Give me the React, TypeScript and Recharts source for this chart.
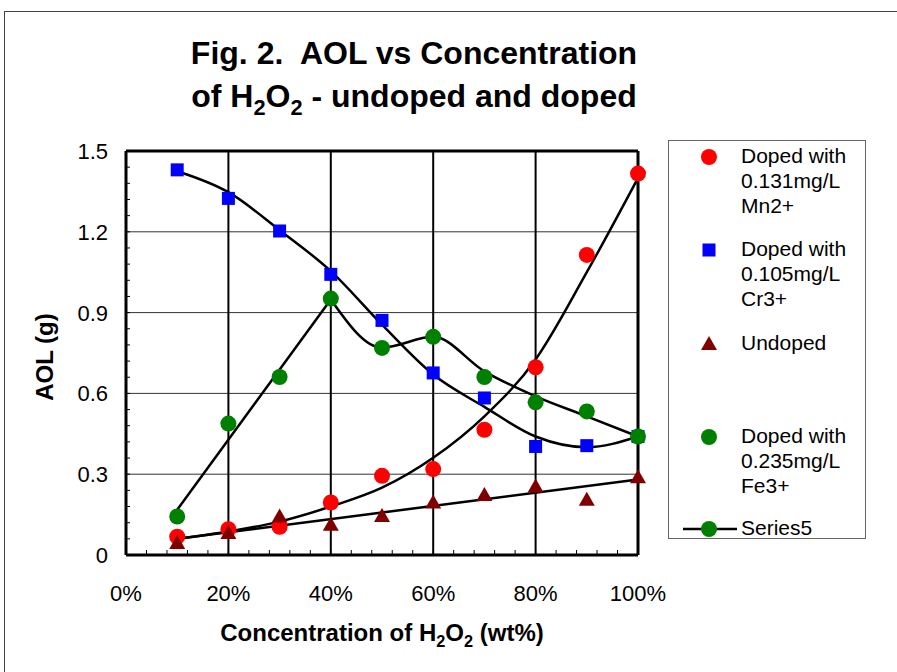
import {
  ComposedChart,
  Line,
  ReferenceLine,
  Scatter,
  XAxis,
  YAxis,
} from "recharts";

// concentration of H2O2 (wt%) at each sample
const concentrations = [10, 20, 30, 40, 50, 60, 70, 80, 90, 100];

// measured AOL (g)
const mnValues = [0.068, 0.096, 0.105, 0.195, 0.294, 0.319, 0.465, 0.697, 1.114, 1.416];
const crValues = [1.43, 1.324, 1.203, 1.042, 0.871, 0.676, 0.583, 0.403, 0.406, 0.44];
const undopedValues = [0.045, 0.082, 0.143, 0.112, 0.145, 0.195, 0.223, 0.254, 0.205, 0.289];
const feValues = [0.143, 0.488, 0.661, 0.952, 0.769, 0.81, 0.661, 0.567, 0.533, 0.44];

// trend lines
const mnTrend = [0.06, 0.087, 0.124, 0.18, 0.25, 0.361, 0.515, 0.726, 1.05, 1.4];
const crTrend = [1.425, 1.347, 1.206, 1.054, 0.855, 0.67, 0.55, 0.44, 0.4, 0.44];
const undopedTrendX = [10, 100];
const undopedTrend = [0.06, 0.28];
const feRiseX = [10, 40];
const feRise = [0.168, 0.949];
const feFallX = [40, 50, 60, 70, 80, 90, 100];
const feFall = [0.949, 0.77, 0.81, 0.682, 0.589, 0.515, 0.44];

const xTicks = [0, 4, 8, 12, 16, 20, 24, 28, 32, 36, 40, 44, 48, 52, 56, 60, 64, 68, 72, 76, 80, 84, 88, 92, 96, 100];
const yTicks = [0, 0.06, 0.12, 0.18, 0.24, 0.3, 0.36, 0.42, 0.48, 0.54, 0.6, 0.66, 0.72, 0.78, 0.84, 0.9, 0.96, 1.02, 1.08, 1.14, 1.2, 1.26, 1.32, 1.38, 1.44, 1.5];
const xGrid = [20, 40, 60, 80];
const yGrid = [0.3, 0.6, 0.9, 1.2];

const legendItems = [
  { lines: ["Doped with", "0.131mg/L", "Mn2+"], shape: "circle", color: "#ff0000", center: 156 },
  { lines: ["Doped with", "0.105mg/L", "Cr3+"], shape: "square", color: "#0000ff", center: 249 },
  { lines: ["Undoped"], shape: "triangle", color: "#800000", center: 343 },
  { lines: ["Doped with", "0.235mg/L", "Fe3+"], shape: "circle", color: "#008000", center: 436 },
  { lines: ["Series5"], shape: "line", color: "#008000", center: 528 },
];

const toPoints = (xs: number[], ys: number[]) => xs.map((x, i) => ({ x, y: ys[i] }));

const FONT = "'Liberation Sans', Arial, sans-serif";
const X_MARGIN = 30;
const Y_MARGIN = 18;

function XTick(props: any) {
  const { x, y, payload } = props;
  const axisY = y - X_MARGIN;
  const v = payload.value;
  return (
    <g>
      <line x1={x} x2={x} y1={axisY} y2={axisY - 5} stroke="#000" strokeWidth={1} />
      {v % 20 === 0 && (
        <text x={x} y={y + 16} textAnchor="middle" fontSize={22} fontFamily={FONT} fill="#000">
          {`${v}%`}
        </text>
      )}
    </g>
  );
}

function YTick(props: any) {
  const { x, y, payload } = props;
  const axisX = x + Y_MARGIN;
  const v = payload.value;
  return (
    <g>
      <line x1={axisX} x2={axisX + 4} y1={y} y2={y} stroke="#000" strokeWidth={1} />
      {Math.round(v * 100) % 30 === 0 && (
        <text x={x} y={y + 8} textAnchor="end" fontSize={22} fontFamily={FONT} fill="#000">
          {String(v)}
        </text>
      )}
    </g>
  );
}

const circleShape = (color: string) => (p: any) => <circle cx={p.cx} cy={p.cy} r={8} fill={color} />;
const squareShape = (color: string) => (p: any) => (
  <rect x={p.cx - 6.5} y={p.cy - 6.5} width={13} height={13} fill={color} />
);
const triangleShape = (color: string) => (p: any) => (
  <polygon points={`${p.cx},${p.cy - 8} ${p.cx + 8},${p.cy + 6} ${p.cx - 8},${p.cy + 6}`} fill={color} />
);

function LegendMarker({ shape, color }: { shape: string; color: string }) {
  return (
    <svg width={60} height={20} style={{ position: "absolute", left: 10, top: -10 }}>
      {shape === "line" && <line x1={4} x2={58} y1={10} y2={10} stroke="#000" strokeWidth={2.5} />}
      {(shape === "circle" || shape === "line") && <circle cx={30} cy={10} r={8} fill={color} />}
      {shape === "square" && <rect x={23.5} y={3.5} width={13} height={13} fill={color} />}
      {shape === "triangle" && <polygon points="30,2 38,16 22,16" fill={color} />}
    </svg>
  );
}

const Sub = ({ children }: { children: string }) => (
  <span style={{ fontSize: "0.68em", position: "relative", top: "0.35em" }}>{children}</span>
);

export default function App() {
  return (
    <div
      style={{
        position: "fixed",
        left: 0,
        top: 0,
        width: 897,
        height: 672,
        overflow: "hidden",
        background: "#fff",
        fontFamily: FONT,
        color: "#000",
      }}
    >
      <div
        style={{
          position: "absolute",
          left: 4,
          top: 11,
          width: 1000,
          height: 1000,
          border: "1px solid #444",
        }}
      />

      <div
        style={{
          position: "absolute",
          left: 0,
          top: 32,
          width: 828,
          textAlign: "center",
          fontWeight: 700,
          fontSize: 32,
          lineHeight: "43px",
        }}
      >
        <div style={{ whiteSpace: "pre" }}>Fig. 2.  AOL vs Concentration</div>
        <div>
          of H<Sub>2</Sub>O<Sub>2</Sub> - undoped and doped
        </div>
      </div>

      <ComposedChart
        width={897}
        height={672}
        margin={{ top: 151, right: 259, bottom: 67, left: 0 }}
        style={{ position: "absolute", left: 0, top: 0 }}
      >
        <XAxis
          type="number"
          dataKey="x"
          domain={[0, 100]}
          ticks={xTicks}
          interval={0}
          height={50}
          tickSize={0}
          tickMargin={X_MARGIN}
          tick={<XTick />}
          axisLine={{ stroke: "#000", strokeWidth: 3 }}
          tickLine={false}
        />
        <YAxis
          type="number"
          dataKey="y"
          domain={[0, 1.5]}
          ticks={yTicks}
          interval={0}
          width={126}
          tickSize={0}
          tickMargin={Y_MARGIN}
          tick={<YTick />}
          axisLine={{ stroke: "#000", strokeWidth: 3 }}
          tickLine={false}
        />

        {yGrid.map((v) => (
          <ReferenceLine key={`h${v}`} y={v} stroke="#333" strokeWidth={1} />
        ))}
        {xGrid.map((v) => (
          <ReferenceLine key={`v${v}`} x={v} stroke="#000" strokeWidth={2} />
        ))}
        <ReferenceLine y={1.5} stroke="#000" strokeWidth={3} />
        <ReferenceLine x={100} stroke="#000" strokeWidth={3} />

        <Scatter
          name="Doped with 0.131mg/L Mn2+"
          data={toPoints(concentrations, mnValues)}
          shape={circleShape("#ff0000")}
          isAnimationActive={false}
        />
        <Scatter
          name="Doped with 0.105mg/L Cr3+"
          data={toPoints(concentrations, crValues)}
          shape={squareShape("#0000ff")}
          isAnimationActive={false}
        />
        <Scatter
          name="Undoped"
          data={toPoints(concentrations, undopedValues)}
          shape={triangleShape("#800000")}
          isAnimationActive={false}
        />
        <Scatter
          name="Doped with 0.235mg/L Fe3+"
          data={toPoints(concentrations, feValues)}
          shape={circleShape("#008000")}
          isAnimationActive={false}
        />

        <Line
          data={toPoints(concentrations, mnTrend)}
          dataKey="y"
          type="monotone"
          stroke="#000"
          strokeWidth={2.5}
          dot={false}
          isAnimationActive={false}
        />
        <Line
          data={toPoints(concentrations, crTrend)}
          dataKey="y"
          type="monotone"
          stroke="#000"
          strokeWidth={2.5}
          dot={false}
          isAnimationActive={false}
        />
        <Line
          data={toPoints(undopedTrendX, undopedTrend)}
          dataKey="y"
          type="linear"
          stroke="#000"
          strokeWidth={2.5}
          dot={false}
          isAnimationActive={false}
        />
        <Line
          data={toPoints(feRiseX, feRise)}
          dataKey="y"
          type="linear"
          stroke="#000"
          strokeWidth={2.5}
          dot={false}
          isAnimationActive={false}
        />
        <Line
          data={toPoints(feFallX, feFall)}
          dataKey="y"
          type="monotone"
          stroke="#000"
          strokeWidth={2.5}
          dot={false}
          isAnimationActive={false}
        />
      </ComposedChart>

      <div
        style={{
          position: "absolute",
          left: 45,
          top: 357,
          transform: "translate(-50%, -50%) rotate(-90deg)",
          fontWeight: 700,
          fontSize: 24,
          whiteSpace: "nowrap",
        }}
      >
        AOL (g)
      </div>

      <div
        style={{
          position: "absolute",
          left: 126,
          top: 618,
          width: 512,
          textAlign: "center",
          fontWeight: 700,
          fontSize: 24,
          lineHeight: "30px",
        }}
      >
        Concentration of H<Sub>2</Sub>O<Sub>2</Sub> (wt%)
      </div>

      <div
        style={{
          position: "absolute",
          left: 668,
          top: 140,
          width: 196,
          height: 397,
          border: "1px solid #666",
        }}
      >
        {legendItems.map((item) => (
          <div key={item.lines.join(" ")} style={{ position: "absolute", left: 0, top: item.center - 140 }}>
            <LegendMarker shape={item.shape} color={item.color} />
            <div
              style={{
                position: "absolute",
                left: 72,
                top: -14.5,
                fontSize: 21,
                lineHeight: "25px",
                whiteSpace: "nowrap",
              }}
            >
              {item.lines.map((l) => (
                <div key={l}>{l}</div>
              ))}
            </div>
          </div>
        ))}
      </div>
    </div>
  );
}
